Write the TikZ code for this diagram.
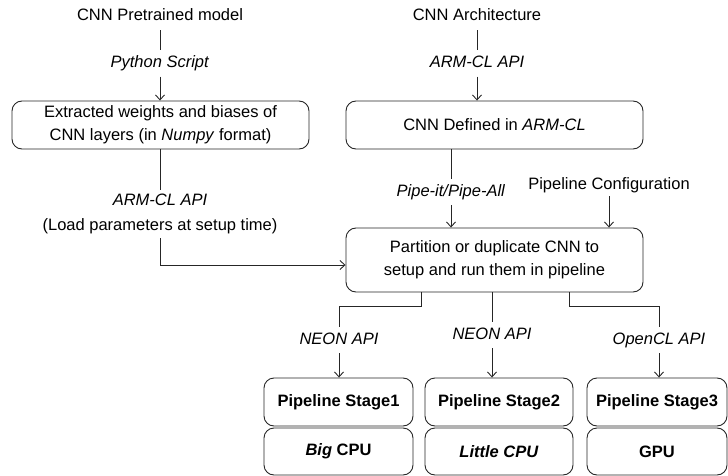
\documentclass[tikz,border=0pt]{standalone}
\usepackage{fontspec}
\setmainfont{Liberation Sans}
\usetikzlibrary{arrows.meta}
\begin{document}
\begin{tikzpicture}[x=1pt,y=-1pt,
  every node/.style={font=\fontsize{16.5}{23}\selectfont},
  line/.style={draw=black!85,line width=0.9pt},
  arr/.style={line,-{Straight Barb[length=5pt,width=9pt]}},
  rbox/.style={draw=black!85,line width=0.9pt,rounded corners=10pt,align=center,inner sep=0pt},
  lbl/.style={inner sep=5pt,text height=12pt,text depth=4pt,align=center}]
\useasboundingbox (0,0) rectangle (728,476);
% top row
\node[lbl] (top1) at (160,17) {CNN Pretrained model};
\node[lbl] (top2) at (477,17) {CNN Architecture};
\node[lbl] (l1) at (160,63.5) {\textit{Python Script}};
\node[lbl] (l2) at (477,63.5) {\textit{ARM-CL API}};
\node[rbox,minimum width=297pt,minimum height=48pt] (box1) at (160.5,125) {Extracted weights and biases of\\CNN layers (in \textit{Numpy} format)};
\node[rbox,minimum width=297pt,minimum height=48pt] (box2) at (494.5,125) {CNN Defined in \textit{ARM-CL}};
\draw[line] (top1.south) -- (l1.north);
\draw[arr] (l1.south) -- (l1.south |- box1.north);
\draw[line] (top2.south) -- (l2.north);
\draw[arr] (l2.south) -- (l2.south |- box2.north);
% middle
\node[align=center,inner xsep=0pt,inner ysep=4pt,font=\fontsize{16.5}{25}\selectfont] (l4) at (160,214) {\textit{ARM-CL API}\\(Load parameters at setup time)};
\node[lbl] (l3) at (451,192) {\textit{Pipe-it/Pipe-All}};
\node[lbl,inner sep=3pt] (cfg) at (609,185) {Pipeline Configuration};
\node[rbox,minimum width=297pt,minimum height=64pt] (box3) at (494.5,260) {Partition or duplicate CNN to\\setup and run them in pipeline};
\draw[line] (box1.south -| l4) -- (l4.north);
\draw[arr] (l4.south) |- ([yshift=-5pt]box3.west);
\draw[line] (box2.south -| l3) -- (l3.north);
\draw[arr] (l3.south) -- (l3.south |- box3.north);
\draw[arr] (cfg.south) -- (cfg.south |- box3.north);
% bottom
\node[lbl] (n1) at (339,340) {\textit{NEON API}};
\node[lbl] (n2) at (492,335) {\textit{NEON API}};
\node[lbl] (n3) at (659,340) {\textit{OpenCL API}};
\node[rbox,minimum width=149pt,minimum height=48pt,font=\fontsize{16.5}{23}\selectfont\bfseries] (s1) at (338.5,402) {Pipeline Stage1};
\node[rbox,minimum width=148pt,minimum height=48pt,font=\fontsize{16.5}{23}\selectfont\bfseries] (s2) at (499,402) {Pipeline Stage2};
\node[rbox,minimum width=140pt,minimum height=48pt,font=\fontsize{16.5}{23}\selectfont\bfseries] (s3) at (657,402) {Pipeline Stage3};
\node[rbox,minimum width=149pt,minimum height=47pt,font=\fontsize{16.5}{23}\selectfont\bfseries] (c1) at (338.5,451.5) {\textit{Big} CPU};
\node[rbox,minimum width=148pt,minimum height=47pt,font=\fontsize{16.5}{23}\selectfont\bfseries] (c2) at (499,451.5) {\textit{Little CPU}};
\node[rbox,minimum width=140pt,minimum height=47pt,font=\fontsize{16.5}{23}\selectfont\bfseries] (c3) at (657,451.5) {GPU};
\draw[line] ([xshift=-73.5pt]box3.south) -- ++(0,14) -| (n1.north);
\draw[line] (box3.south -| n2) -- (n2.north);
\draw[line] ([xshift=74.5pt]box3.south) -- ++(0,14) -| (n3.north);
\draw[arr] (n1.south) -- (n1.south |- s1.north);
\draw[arr] (n2.south) -- (n2.south |- s2.north);
\draw[arr] (n3.south) -- (n3.south |- s3.north);
\end{tikzpicture}
\end{document}
